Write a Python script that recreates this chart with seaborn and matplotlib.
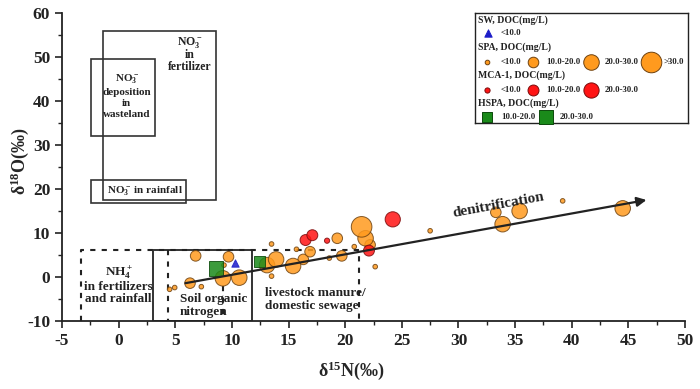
import numpy as np
import pandas as pd
import matplotlib
matplotlib.use("Agg")
import matplotlib.pyplot as plt
from matplotlib.patches import Rectangle
import seaborn as sns

# ---------------- data ----------------
spa_x = [4.5, 4.95, 7.3, 9.3, 13.5, 13.5, 15.7, 18.6, 20.8, 22.65, 27.5, 39.2,
         6.3, 6.8, 9.7, 16.3, 16.9, 19.3, 19.7, 22.2, 33.3,
         9.2, 10.65, 13.1, 13.9, 15.4, 21.8, 33.9, 35.4, 44.5,
         21.45]
spa_y = [-2.8, -2.4, -2.2, 2.7, 7.5, 0.2, 6.3, 4.3, 6.9, 2.35, 10.5, 17.3,
         -1.4, 4.8, 4.6, 4.0, 5.75, 8.8, 4.8, 7.3, 14.7,
         -0.3, -0.15, 2.7, 4.0, 2.5, 8.8, 12.0, 15.0, 15.6,
         11.4]
spa_cls = ["<10.0"] * 12 + ["10.0-20.0"] * 9 + ["20.0-30.0"] * 9 + [">30.0"]

mca_x = [18.4, 16.5, 17.1, 22.1, 24.2]
mca_y = [8.25, 8.4, 9.5, 6.0, 13.1]
mca_cls = ["<10.0", "10.0-20.0", "10.0-20.0", "10.0-20.0", "20.0-30.0"]

hspa_x = [12.4, 8.6]
hspa_y = [3.5, 2.0]
hspa_cls = ["10.0-20.0", "20.0-30.0"]

sw_x = [10.3]
sw_y = [3.25]
sw_cls = ["<10.0"]

x_ticks = [-5, 0, 5, 10, 15, 20, 25, 30, 35, 40, 45, 50]
y_ticks = [-10, 0, 10, 20, 30, 40, 50, 60]

df = pd.concat([
    pd.DataFrame({"d15N": spa_x, "d18O": spa_y, "cls": spa_cls, "group": "SPA"}),
    pd.DataFrame({"d15N": mca_x, "d18O": mca_y, "cls": mca_cls, "group": "MCA-1"}),
    pd.DataFrame({"d15N": hspa_x, "d18O": hspa_y, "cls": hspa_cls, "group": "HSPA"}),
    pd.DataFrame({"d15N": sw_x, "d18O": sw_y, "cls": sw_cls, "group": "SW"}),
], ignore_index=True)

# ---------------- style ----------------
sns.set_style("ticks")
plt.rcParams["font.family"] = ["Liberation Serif", "DejaVu Serif"]
plt.rcParams["font.weight"] = "bold"
plt.rcParams["axes.unicode_minus"] = False
plt.rcParams["mathtext.fontset"] = "custom"
plt.rcParams["mathtext.rm"] = "Liberation Serif:bold"
plt.rcParams["mathtext.it"] = "Liberation Serif:bold"
plt.rcParams["mathtext.bf"] = "Liberation Serif:bold"

styles = {
    "SPA": dict(marker="o", color="#FF9A1E", ec="#6E4210",
                sizes={"<10.0": 11, "10.0-20.0": 58, "20.0-30.0": 125, ">30.0": 220}),
    "MCA-1": dict(marker="o", color="#FF1414", ec="#7A0A0A",
                  sizes={"<10.0": 14, "10.0-20.0": 62, "20.0-30.0": 120}),
    "HSPA": dict(marker="s", color="#1A8A1A", ec="#0B4A0B",
                 sizes={"10.0-20.0": 62, "20.0-30.0": 115}),
    "SW": dict(marker="^", color="#1C1CC8", ec="#1C1CC8",
               sizes={"<10.0": 28}),
}

fig = plt.figure(figsize=(7.0, 3.89), dpi=100)
ax = fig.add_axes([62 / 700, 1 - 321 / 389, 623 / 700, 308 / 389])

for g in ["SPA", "MCA-1", "HSPA", "SW"]:
    st = styles[g]
    sub = df[df.group == g]
    sns.scatterplot(data=sub, x="d15N", y="d18O", size="cls", sizes=st["sizes"],
                    marker=st["marker"], color=st["color"], edgecolor=st["ec"],
                    linewidth=0.7, alpha=0.85, legend=False, ax=ax, zorder=4)

ax.set_xlim(-5, 50)
ax.set_ylim(-10, 60)
ax.set_xticks(x_ticks)
ax.set_yticks(y_ticks)
ax.set_xticks(np.arange(-2.5, 50, 5), minor=True)
ax.set_yticks(np.arange(-5, 60, 10), minor=True)
ax.tick_params(which="major", direction="out", length=5, width=1.2, labelsize=12.5, colors="#222222")
ax.tick_params(which="minor", direction="out", length=3, width=1.0, colors="#222222")
for lab in ax.get_xticklabels() + ax.get_yticklabels():
    lab.set_fontweight("bold")
sns.despine(ax=ax)
for s in ["left", "bottom"]:
    ax.spines[s].set_linewidth(1.3)
    ax.spines[s].set_color("#222222")

ax.set_xlabel("δ$^{15}$N(‰)", fontsize=13, fontweight="bold")
ax.set_ylabel("δ$^{18}$O(‰)", fontsize=13, fontweight="bold")
ax.xaxis.set_label_coords(0.465, -0.125)
ax.yaxis.set_label_coords(-0.05, 0.52)

# ---------------- source boxes ----------------
bc = "#333333"
for (x0, y0, x1, y1) in [(-1.41, 17.5, 8.57, 56.0), (-2.44, 32.0, 3.21, 49.5), (-2.44, 16.75, 5.94, 22.05)]:
    ax.add_patch(Rectangle((x0, y0), x1 - x0, y1 - y0, fill=False, ec=bc, lw=1.2, zorder=2))

ax.add_patch(Rectangle((3.0, -10), 11.74 - 3.0, 6.14 + 10, fill=False, ec=bc, lw=1.4, zorder=2))
dash = (0, (2.5, 3))
ax.plot([-3.35, -3.35, 21.24, 21.24], [-10, 6.14, 6.14, -10], color="#222222", lw=1.5, ls=dash, zorder=2)
ax.plot([4.38, 4.38], [6.14, -10], color="#222222", lw=1.5, ls=dash, zorder=2)
ax.plot([9.24, 9.24], [-2.0, -10], color="#222222", lw=1.5, ls=dash, zorder=2)

tk = dict(ha="center", va="center", fontweight="bold", color="#222222")
ax.text(6.3, 53.2, "NO$_3^-$", fontsize=8.5, **tk)
ax.text(6.3, 50.4, "in", fontsize=8.5, **tk)
ax.text(6.3, 47.7, "fertilizer", fontsize=8.5, **tk)
ax.text(0.7, 45.0, "NO$_3^-$", fontsize=8, **tk)
ax.text(0.7, 42.0, "deposition", fontsize=8, **tk)
ax.text(0.7, 39.5, "in", fontsize=8, **tk)
ax.text(0.7, 37.0, "wasteland", fontsize=8, **tk)
ax.text(2.3, 19.5, "NO$_3^-$ in rainfall", fontsize=8, **tk)

ax.text(0.0, 0.9, "NH$_4^+$", fontsize=9.5, **tk)
ax.text(0.0, -2.2, "in fertilizers", fontsize=9.5, **tk)
ax.text(0.0, -5.1, "and rainfall", fontsize=9.5, **tk)
lk = dict(fontsize=9.5, ha="left", va="center", fontweight="bold", color="#222222")
ax.text(5.4, -5.0, "Soil organic", **lk)
ax.text(5.4, -7.9, "nitrogen", **lk)
ax.text(12.9, -3.7, "livestock manure/", **lk)
ax.text(12.9, -6.6, "domestic sewage", **lk)

ax.annotate("", xy=(46.6, 17.5), xytext=(5.9, -1.4),
            arrowprops=dict(arrowstyle="-|>", lw=1.6, color="#222222", mutation_scale=14,
                            shrinkA=0, shrinkB=0), zorder=5)
ax.text(33.5, 16.4, "denitrification", fontsize=11, rotation=10.5, rotation_mode="anchor",
        ha="center", va="center", fontweight="bold", color="#222222", zorder=6)

# ---------------- legend (pixel-like layout) ----------------
lax = fig.add_axes([475 / 700, 1 - 123 / 389, 213 / 700, 110 / 389])
lax.set_xlim(475, 688)
lax.set_ylim(123, 13)
lax.set_xticks([])
lax.set_yticks([])
for s in lax.spines.values():
    s.set_linewidth(1.0)
    s.set_color("#222222")
lax.set_facecolor("white")

lt = dict(fontsize=7, fontweight="bold", va="center", ha="left", color="#222222")
li = dict(fontsize=6.3, fontweight="bold", va="center", ha="left", color="#222222")


def leg_item(group, cls, px, py, tx):
    st = styles[group]
    lax.scatter([px], [py], s=st["sizes"][cls], marker=st["marker"], c=st["color"],
                edgecolors=st["ec"], linewidths=0.7, clip_on=False, zorder=3)
    lax.text(tx, py, cls, **li)


lax.text(478, 20, "SW, DOC(mg/L)", **lt)
leg_item("SW", "<10.0", 488, 33, 501)
lax.text(478, 47, "SPA, DOC(mg/L)", **lt)
leg_item("SPA", "<10.0", 487, 62, 501)
leg_item("SPA", "10.0-20.0", 533, 62, 546)
leg_item("SPA", "20.0-30.0", 591, 62, 605)
leg_item("SPA", ">30.0", 651, 62, 664)
lax.text(478, 75, "MCA-1, DOC(mg/L)", **lt)
leg_item("MCA-1", "<10.0", 487, 90, 501)
leg_item("MCA-1", "10.0-20.0", 533, 90, 546)
leg_item("MCA-1", "20.0-30.0", 591, 90, 605)
lax.text(478, 103, "HSPA, DOC(mg/L)", **lt)
leg_item("HSPA", "10.0-20.0", 487, 117, 501)
leg_item("HSPA", "20.0-30.0", 546, 117, 560)

fig.savefig("out.png", dpi=100)
